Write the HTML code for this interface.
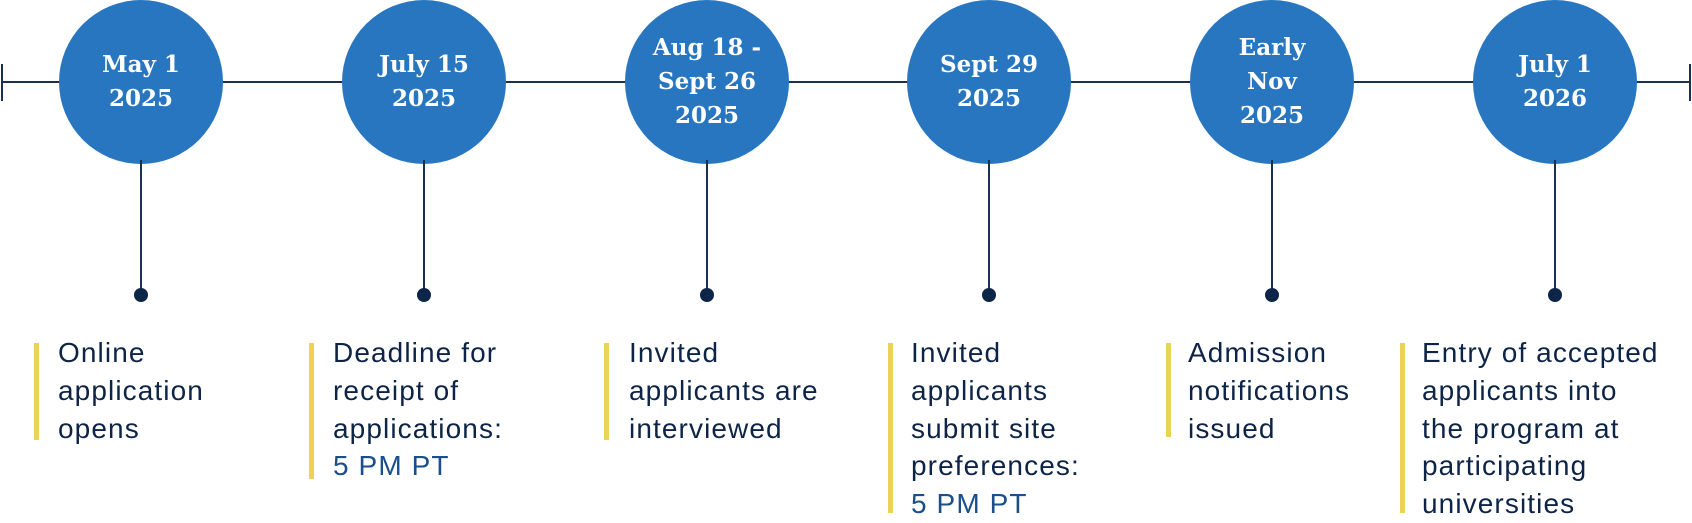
<!DOCTYPE html>
<html><head><meta charset="utf-8"><style>
body{margin:0;width:1692px;height:520px;background:#fff;position:relative;overflow:hidden;font-family:"Liberation Sans",sans-serif}
.a{position:absolute}
.c{position:absolute;width:164px;height:164px;border-radius:50%;background:#2876c0;top:0;display:flex;align-items:center;justify-content:center;text-align:center;color:#fff;font-family:"DejaVu Serif","Liberation Serif",serif;font-weight:bold;font-size:23px;line-height:34px}
.v{position:absolute;width:2px;background:#1b2f52;top:160px;height:134px}
.d{position:absolute;width:14px;height:14px;border-radius:50%;background:#0c2548;top:288px}
.b{position:absolute;width:5px;background:#ecd255;top:343px}
.t{position:absolute;top:334px;color:#0d2447;font-size:28px;letter-spacing:1.1px;line-height:37.8px;white-space:nowrap}
.t span{color:#1a4f8a}
</style></head><body>
<div class="a" style="left:2px;top:81px;width:1688px;height:2px;background:#1b2f52"></div>
<div class="a" style="left:1px;top:64px;width:2px;height:37px;background:#1b2f52"></div>
<div class="a" style="left:1689px;top:64px;width:2px;height:37px;background:#1b2f52"></div>

<div class="c" style="left:59px">May 1<br>2025</div>
<div class="c" style="left:342px">July 15<br>2025</div>
<div class="c" style="left:625px">Aug 18 -<br>Sept 26<br>2025</div>
<div class="c" style="left:907px">Sept 29<br>2025</div>
<div class="c" style="left:1190px">Early<br>Nov<br>2025</div>
<div class="c" style="left:1473px">July 1<br>2026</div>

<div class="v" style="left:140px"></div><div class="d" style="left:134px"></div>
<div class="v" style="left:423px"></div><div class="d" style="left:417px"></div>
<div class="v" style="left:706px"></div><div class="d" style="left:700px"></div>
<div class="v" style="left:988px"></div><div class="d" style="left:982px"></div>
<div class="v" style="left:1271px"></div><div class="d" style="left:1265px"></div>
<div class="v" style="left:1554px"></div><div class="d" style="left:1548px"></div>

<div class="b" style="left:34px;height:97px"></div>
<div class="t" style="left:58px">Online<br>application<br>opens</div>
<div class="b" style="left:309px;height:136px"></div>
<div class="t" style="left:333px">Deadline for<br>receipt of<br>applications:<br><span>5 PM PT</span></div>
<div class="b" style="left:604px;height:97px"></div>
<div class="t" style="left:629px">Invited<br>applicants are<br>interviewed</div>
<div class="b" style="left:888px;height:170px"></div>
<div class="t" style="left:911px">Invited<br>applicants<br>submit site<br>preferences:<br><span>5 PM PT</span></div>
<div class="b" style="left:1166px;height:94px"></div>
<div class="t" style="left:1188px">Admission<br>notifications<br>issued</div>
<div class="b" style="left:1400px;height:170px"></div>
<div class="t" style="left:1422px">Entry of accepted<br>applicants into<br>the program at<br>participating<br>universities</div>
</body></html>
